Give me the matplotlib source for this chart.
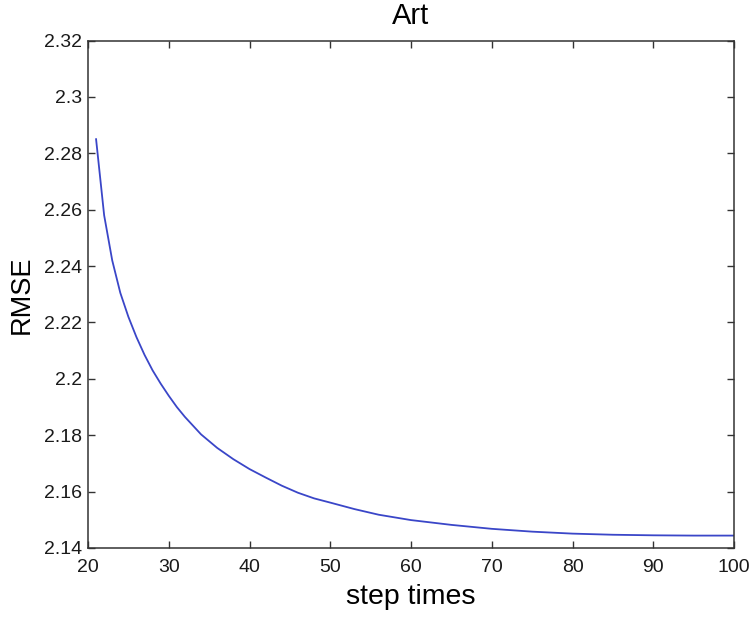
import matplotlib
matplotlib.use("Agg")
import matplotlib.pyplot as plt

steps = [21, 22, 23, 24, 25, 26, 27, 28, 29, 30, 31, 32, 34, 36, 38, 40, 42, 44,
         46, 48, 50, 53, 56, 60, 65, 70, 75, 80, 85, 90, 95, 100]
rmse = [2.2850, 2.2580, 2.2420, 2.2305, 2.2220, 2.2148, 2.2085, 2.2030, 2.1983,
        2.1940, 2.1900, 2.1865, 2.1803, 2.1755, 2.1715, 2.1680, 2.1650, 2.1621,
        2.1596, 2.1576, 2.1561, 2.1538, 2.1518, 2.1499, 2.1482, 2.1468, 2.1458,
        2.1451, 2.1447, 2.1445, 2.1444, 2.1444]
xticks = [20, 30, 40, 50, 60, 70, 80, 90, 100]
yticks = [2.14, 2.16, 2.18, 2.2, 2.22, 2.24, 2.26, 2.28, 2.3, 2.32]
ytick_labels = ["2.14", "2.16", "2.18", "2.2", "2.22", "2.24", "2.26", "2.28", "2.3", "2.32"]

plt.rcParams['font.family'] = ['Liberation Sans', 'DejaVu Sans']

fig = plt.figure(figsize=(7.51, 6.18), dpi=100)
ax = fig.add_axes([88/751, 1 - 548/618, (734-88)/751, (548-40.5)/618])
ax.plot(steps, rmse, color='#3a46c8', linewidth=1.3)
ax.set_xlim(20, 100)
ax.set_ylim(2.14, 2.32)
ax.set_xticks(xticks)
ax.set_xticklabels([str(t) for t in xticks])
ax.set_yticks(yticks)
ax.set_yticklabels(ytick_labels)
ax.tick_params(direction='in', top=True, right=True, length=5, width=1,
               colors='#333333', labelcolor='#1a1a1a', labelsize=14, pad=4)
ax.tick_params(axis='x', pad=8)
for s in ax.spines.values():
    s.set_color('#333333')
    s.set_linewidth(1.1)
ax.set_title('Art', fontsize=21, pad=12)
ax.set_xlabel('step times', fontsize=20.5, labelpad=6)
ax.set_ylabel('RMSE', fontsize=19.5, labelpad=7)
fig.savefig('out.png', dpi=100)
